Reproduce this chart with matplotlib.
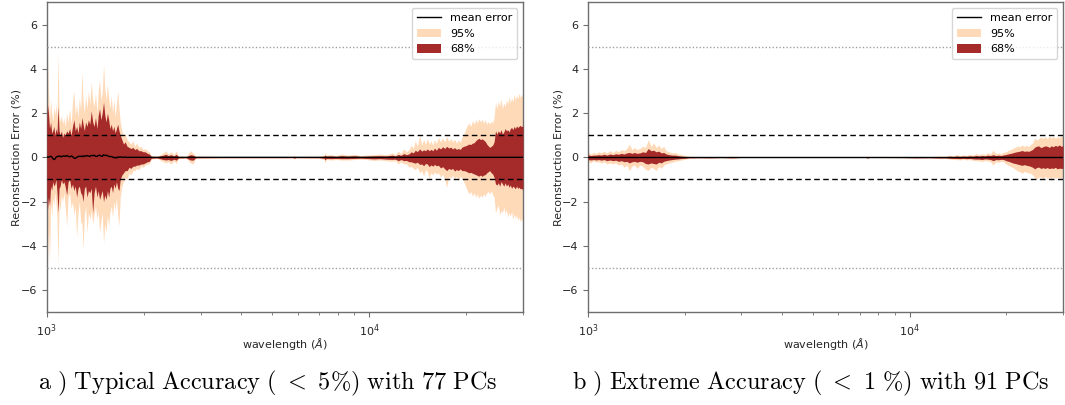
import numpy as np
import matplotlib
matplotlib.use("Agg")
import matplotlib.pyplot as plt

# ---------------- data ----------------
# Panel a: typical accuracy, 77 PCs
wl_a = [1000, 1005, 1012, 1020, 1028, 1036, 1044, 1052, 1060, 1068, 1076, 1084, 1092, 1100,
        1110, 1120, 1130, 1140, 1153, 1165, 1177, 1190, 1202, 1214, 1226, 1238, 1250, 1262,
        1274, 1286, 1296, 1308, 1320, 1333, 1346, 1360, 1374, 1388, 1402, 1416, 1432, 1444,
        1458, 1472, 1486, 1500, 1514, 1528, 1542, 1556, 1570, 1585, 1600, 1615, 1630, 1645,
        1660, 1675, 1690, 1710, 1730, 1750, 1775, 1800, 1825, 1850, 1875, 1900, 1930, 1960,
        1990, 2020, 2050, 2080, 2110, 2200, 2300, 2340, 2380, 2430, 2480, 2520, 2560, 2700,
        2790, 2840, 2900, 3500, 4500, 5800, 5860, 5920, 7000, 7250, 7300, 7360, 7600, 7900,
        8200, 8600, 9000, 9400, 9800, 10300, 10800, 11300,
        11800, 12050, 12300, 12550, 12800, 13050, 13300, 13500, 13700, 13900, 14100, 14350,
        14550, 14750, 14950, 15150, 15350, 15550, 15750, 15950, 16150, 16400, 16650, 16900,
        17150, 17400, 17650, 17900, 18150, 18400, 18650, 18900, 19150, 19400, 19650, 19900,
        20150, 20400, 20650, 20900, 21150, 21400, 21650, 21900, 22150, 22400, 22650, 22900,
        23150, 23400, 23650, 23900, 24150, 24400, 24650, 24900, 25150, 25400, 25650, 25900,
        26150, 26400, 26650, 26900, 27150, 27400, 27650, 27900, 28150, 28400, 28650, 28900,
        29150, 29400, 29650, 29850, 30000]
up95_a = [2.9, 4.8, 3.0, 1.8, 2.6, 2.0, 1.6, 2.3, 1.9, 2.4, 1.7, 4.7, 2.0, 1.6,
          1.9, 1.5, 1.8, 1.4, 2.0, 1.6, 2.2, 1.5, 2.5, 3.0, 1.9, 2.4, 1.8, 2.7,
          2.1, 3.9, 2.5, 2.0, 2.8, 2.2, 3.0, 2.4, 3.4, 2.6, 2.3, 2.9, 2.0, 3.0,
          3.5, 2.6, 2.9, 4.2, 3.1, 2.6, 3.3, 2.7, 2.2, 2.8, 2.0, 2.6, 1.8, 2.4,
          3.0, 2.2, 1.6, 1.2, 0.9, 1.1, 0.8, 0.7, 0.6, 0.75, 0.5, 0.65, 0.45, 0.5,
          0.35, 0.4, 0.3, 0.25, 0.08, 0.05, 0.2, 0.3, 0.15, 0.25, 0.12, 0.3, 0.06, 0.04,
          0.3, 0.2, 0.05, 0.03, 0.03, 0.03, 0.08, 0.03, 0.04, 0.1, 0.22, 0.1, 0.12, 0.08,
          0.15, 0.1, 0.14, 0.08, 0.1, 0.12, 0.15, 0.12,
          0.2, 0.12, 0.28, 0.18, 0.38, 0.25, 0.35, 0.55, 0.4, 0.75, 0.5, 1.0,
          0.55, 0.8, 0.6, 0.85, 0.6, 0.75, 0.55, 0.8, 0.62, 0.9, 0.7, 0.88,
          0.7, 0.95, 0.72, 0.85, 0.7, 0.82, 0.65, 0.78, 0.68, 0.9, 1.05, 1.25,
          1.45, 1.55, 1.4, 1.65, 1.5, 1.7, 1.55, 1.75, 1.6, 1.72, 1.55, 1.7,
          1.5, 1.62, 1.5, 1.65, 1.55, 1.8, 2.5, 2.2, 2.55, 2.3, 2.65, 2.2,
          2.45, 2.3, 2.6, 2.4, 2.75, 2.45, 2.7, 2.5, 2.85, 2.6, 2.8, 2.65,
          2.9, 2.7, 2.85, 2.75, 2.8]
lo95_a = [-2.6, -4.7, -3.2, -4.8, -2.0, -2.7, -1.8, -2.2, -1.6, -2.1, -2.8, -4.9, -2.0, -2.4,
          -1.7, -2.0, -1.6, -2.2, -3.1, -1.8, -1.6, -2.3, -2.0, -2.6, -2.2, -3.6, -2.5, -2.0,
          -2.9, -3.0, -4.2, -2.6, -2.2, -3.4, -2.5, -2.8, -2.4, -3.0, -2.6, -2.2, -2.8, -2.4,
          -3.4, -2.9, -2.5, -3.9, -3.0, -3.4, -2.6, -3.1, -2.5, -2.2, -2.7, -2.0, -2.4, -1.8,
          -2.6, -3.1, -1.8, -1.3, -1.1, -0.9, -1.0, -0.7, -0.8, -0.6, -0.6, -0.5, -0.55, -0.4,
          -0.45, -0.35, -0.3, -0.3, -0.08, -0.05, -0.2, -0.25, -0.2, -0.3, -0.15, -0.28, -0.06, -0.04,
          -0.25, -0.3, -0.05, -0.03, -0.03, -0.03, -0.08, -0.03, -0.04, -0.1, -0.25, -0.1, -0.12, -0.1,
          -0.12, -0.12, -0.1, -0.08, -0.1, -0.14, -0.12, -0.15,
          -0.18, -0.15, -0.3, -0.2, -0.3, -0.28, -0.45, -0.4, -0.5, -0.55, -0.45, -0.7,
          -0.6, -0.85, -0.55, -0.65, -0.95, -0.7, -0.8, -0.65, -0.75, -0.7, -0.9, -0.75,
          -1.0, -1.35, -0.85, -0.95, -0.8, -1.0, -0.85, -1.05, -0.85, -0.95, -1.1, -1.3,
          -1.5, -1.65, -1.55, -1.75, -1.6, -1.8, -1.65, -1.85, -1.7, -1.8, -1.65, -1.75,
          -1.6, -1.55, -1.65, -1.5, -1.7, -1.8, -2.5, -2.3, -2.15, -2.6, -2.4, -2.5,
          -2.25, -2.55, -2.35, -2.7, -2.5, -2.65, -2.45, -2.8, -2.55, -2.75, -2.6, -2.85,
          -2.7, -2.9, -2.75, -2.9, -2.8]
up68_a = [1.5, 2.4, 2.0, 1.3, 1.6, 1.1, 1.2, 1.4, 1.0, 1.3, 1.1, 2.3, 1.2, 1.0,
          1.2, 0.9, 1.1, 1.0, 1.2, 1.1, 1.3, 1.0, 1.4, 1.7, 1.2, 1.4, 1.1, 1.6,
          1.3, 1.8, 1.5, 1.2, 1.6, 1.4, 1.7, 1.5, 2.1, 1.6, 1.4, 1.8, 1.3, 1.9,
          2.2, 1.7, 2.0, 2.5, 1.9, 1.6, 2.0, 1.7, 1.3, 1.5, 1.2, 1.4, 1.1, 1.3,
          1.5, 1.2, 1.0, 0.8, 0.6, 0.7, 0.5, 0.45, 0.4, 0.45, 0.35, 0.4, 0.3, 0.3,
          0.25, 0.25, 0.18, 0.15, 0.04, 0.03, 0.1, 0.14, 0.08, 0.12, 0.06, 0.14, 0.03, 0.02,
          0.12, 0.1, 0.02, 0.015, 0.015, 0.015, 0.04, 0.015, 0.02, 0.05, 0.1, 0.05, 0.06, 0.04,
          0.07, 0.05, 0.07, 0.04, 0.05, 0.06, 0.07, 0.06,
          0.1, 0.06, 0.13, 0.09, 0.17, 0.12, 0.16, 0.25, 0.2, 0.32, 0.26, 0.38,
          0.28, 0.34, 0.3, 0.38, 0.3, 0.36, 0.3, 0.42, 0.32, 0.45, 0.38, 0.48,
          0.4, 0.5, 0.42, 0.46, 0.38, 0.44, 0.36, 0.4, 0.36, 0.46, 0.5, 0.52,
          0.56, 0.6, 0.58, 0.64, 0.66, 0.75, 0.82, 0.86, 0.8, 0.84, 0.78, 0.72,
          0.6, 0.52, 0.45, 0.5, 0.55, 0.7, 1.2, 1.05, 1.2, 1.1, 1.25, 1.05,
          1.15, 1.3, 1.2, 1.25, 1.15, 1.3, 1.35, 1.25, 1.4, 1.3, 1.42, 1.35,
          1.4, 1.45, 1.38, 1.42, 1.4]
lo68_a = [-1.6, -2.4, -1.8, -2.2, -1.3, -1.5, -1.1, -1.3, -1.2, -1.0, -1.6, -2.5, -1.4, -1.3,
          -1.0, -1.2, -1.1, -1.3, -1.7, -1.1, -1.0, -1.4, -1.2, -1.5, -1.3, -1.8, -1.4, -1.3,
          -1.6, -1.7, -2.0, -1.4, -1.3, -1.8, -1.5, -1.6, -1.4, -2.5, -1.6, -1.3, -1.8, -1.5,
          -1.9, -1.7, -1.5, -2.0, -1.7, -1.9, -1.5, -1.8, -1.4, -1.3, -1.6, -1.2, -1.4, -1.1,
          -1.4, -1.5, -1.0, -0.8, -0.7, -0.6, -0.6, -0.45, -0.5, -0.4, -0.4, -0.35, -0.35, -0.3,
          -0.3, -0.25, -0.2, -0.18, -0.04, -0.03, -0.1, -0.12, -0.1, -0.14, -0.08, -0.13, -0.03, -0.02,
          -0.12, -0.13, -0.02, -0.015, -0.015, -0.015, -0.04, -0.015, -0.02, -0.05, -0.12, -0.05, -0.06, -0.05,
          -0.06, -0.06, -0.05, -0.04, -0.05, -0.07, -0.06, -0.08,
          -0.09, -0.08, -0.15, -0.1, -0.15, -0.14, -0.2, -0.2, -0.24, -0.26, -0.22, -0.32,
          -0.3, -0.38, -0.28, -0.3, -0.42, -0.34, -0.4, -0.32, -0.38, -0.36, -0.48, -0.42,
          -0.52, -0.6, -0.5, -0.55, -0.5, -0.62, -0.55, -0.6, -0.52, -0.6, -0.6, -0.62,
          -0.66, -0.7, -0.68, -0.72, -0.75, -0.78, -0.82, -0.85, -0.8, -0.86, -0.8, -0.78,
          -0.7, -0.65, -0.6, -0.7, -0.75, -0.9, -1.2, -1.25, -1.15, -1.3, -1.1, -1.2,
          -1.3, -1.15, -1.3, -1.2, -1.35, -1.25, -1.4, -1.3, -1.35, -1.42, -1.3, -1.4,
          -1.35, -1.42, -1.4, -1.45, -1.4]
mean_a = [0.0, 0.02, 0.0, 0.03, 0.05, 0.02, -0.05, -0.1, -0.08, 0.0, 0.03, 0.05, 0.04, 0.06,
          0.02, 0.05, 0.07, 0.04, 0.08, 0.05, 0.02, 0.06, 0.04, -0.03, -0.05, 0.0, 0.03, 0.05,
          0.04, 0.06, 0.03, 0.07, 0.05, 0.08, 0.06, 0.04, 0.09, 0.07, 0.1, 0.05, 0.04, 0.08,
          0.1, 0.06, 0.04, 0.12, 0.08, 0.1, 0.07, 0.05, 0.03, 0.04, 0.02, -0.02, 0.0, -0.03,
          0.02, 0.0, 0.02, 0.01, 0.0, 0.01, 0.0, 0.0, 0.0, 0.0, 0.0, 0.0, 0.0, 0.0,
          0.0, 0.0, 0.0, 0.0, 0.0, 0.0, 0.0, 0.0, 0.0, 0.0, 0.0, 0.0, 0.0, 0.0,
          0.0, 0.0, 0.0, 0.0, 0.0, 0.0, 0.0, 0.0, 0.0, 0.0, 0.0, 0.0, 0.0, 0.0,
          0.0, 0.0, 0.0, 0.0, 0.0, 0.0, 0.0, 0.0] + [0.0] * 77

# Panel b: extreme accuracy, 91 PCs
wl_b = [1000, 1020, 1040, 1060, 1080, 1100, 1120, 1145, 1170, 1195, 1220, 1245, 1270, 1295,
        1320, 1345, 1370, 1395, 1420, 1450, 1480, 1510, 1540, 1570, 1600, 1630, 1660, 1690,
        1720, 1750, 1790, 1830, 1870, 1910, 1960, 2010, 2060, 2200, 2400, 2600, 2800, 3000,
        5000, 7300, 7400, 7500, 9500, 10500, 11500,
        12500, 12900, 13300, 13700, 14000, 14350, 14700, 15050, 15400, 15750, 16100, 16450,
        16800, 17150, 17500, 17850, 18200, 18550, 18900, 19250, 19600, 19950, 20300, 20650,
        21000, 21350, 21700, 22050, 22400, 22750, 23100, 23450, 23800, 24150, 24500, 24850,
        25200, 25600, 26000, 26400, 26800, 27200, 27600, 28000, 28400, 28800, 29200, 29600,
        30000]
up95_b = [0.25, 0.15, 0.22, 0.18, 0.25, 0.2, 0.28, 0.2, 0.3, 0.22, 0.32, 0.25, 0.35, 0.3,
          0.4, 0.6, 0.35, 0.45, 0.35, 0.4, 0.5, 0.45, 0.8, 0.5, 0.65, 0.45, 0.55, 0.4,
          0.5, 0.3, 0.25, 0.2, 0.22, 0.15, 0.12, 0.08, 0.05, 0.03, 0.04, 0.02, 0.05, 0.01,
          0.01, 0.01, 0.06, 0.01, 0.02, 0.04, 0.03,
          0.06, 0.04, 0.1, 0.07, 0.12, 0.08, 0.11, 0.09, 0.13, 0.1, 0.18, 0.12,
          0.17, 0.13, 0.21, 0.16, 0.32, 0.17, 0.2, 0.16, 0.23, 0.25, 0.32, 0.35,
          0.42, 0.46, 0.52, 0.48, 0.56, 0.5, 0.54, 0.49, 0.58, 0.66, 0.88, 0.78,
          0.84, 0.92, 0.86, 0.94, 0.84, 0.96, 0.88, 0.95, 0.86, 0.93, 0.9, 0.96,
          0.95]
lo95_b = [-0.2, -0.25, -0.15, -0.22, -0.2, -0.25, -0.2, -0.3, -0.25, -0.3, -0.25, -0.35, -0.3, -0.45,
          -0.35, -0.6, -0.4, -0.35, -0.5, -0.35, -0.4, -0.55, -0.6, -0.45, -0.5, -0.6, -0.4, -0.5,
          -0.35, -0.3, -0.25, -0.22, -0.18, -0.15, -0.12, -0.08, -0.05, -0.03, -0.04, -0.02, -0.05, -0.01,
          -0.01, -0.01, -0.06, -0.01, -0.02, -0.04, -0.03,
          -0.06, -0.05, -0.08, -0.1, -0.1, -0.12, -0.09, -0.12, -0.1, -0.14, -0.15, -0.16,
          -0.19, -0.14, -0.17, -0.2, -0.35, -0.2, -0.22, -0.18, -0.2, -0.3, -0.36, -0.42,
          -0.47, -0.55, -0.62, -0.66, -0.72, -0.64, -0.68, -0.7, -0.72, -0.8, -0.92, -0.98,
          -0.9, -0.88, -0.96, -0.86, -0.97, -0.9, -0.95, -0.88, -0.96, -0.9, -0.94, -0.92,
          -0.95]
up68_b = [0.12, 0.08, 0.1, 0.1, 0.12, 0.1, 0.14, 0.1, 0.15, 0.12, 0.16, 0.14, 0.18, 0.15,
          0.2, 0.22, 0.18, 0.22, 0.18, 0.2, 0.25, 0.22, 0.4, 0.3, 0.32, 0.25, 0.28, 0.2,
          0.22, 0.15, 0.12, 0.1, 0.1, 0.07, 0.05, 0.04, 0.02, 0.015, 0.02, 0.01, 0.02, 0.005,
          0.005, 0.005, 0.03, 0.005, 0.01, 0.02, 0.015,
          0.03, 0.02, 0.05, 0.035, 0.06, 0.04, 0.055, 0.045, 0.065, 0.05, 0.08, 0.06,
          0.08, 0.065, 0.1, 0.08, 0.12, 0.08, 0.1, 0.08, 0.11, 0.13, 0.16, 0.18,
          0.21, 0.24, 0.26, 0.28, 0.31, 0.27, 0.29, 0.27, 0.31, 0.36, 0.46, 0.5,
          0.52, 0.44, 0.48, 0.52, 0.5, 0.45, 0.52, 0.48, 0.54, 0.5, 0.56, 0.5,
          0.52]
lo68_b = [-0.1, -0.12, -0.1, -0.12, -0.1, -0.13, -0.1, -0.15, -0.12, -0.15, -0.13, -0.18, -0.15, -0.2,
          -0.18, -0.25, -0.2, -0.18, -0.22, -0.18, -0.2, -0.28, -0.3, -0.25, -0.28, -0.3, -0.22, -0.25,
          -0.18, -0.15, -0.12, -0.1, -0.08, -0.07, -0.05, -0.04, -0.02, -0.015, -0.02, -0.01, -0.02, -0.005,
          -0.005, -0.005, -0.03, -0.005, -0.01, -0.02, -0.015,
          -0.03, -0.025, -0.04, -0.05, -0.05, -0.06, -0.045, -0.06, -0.05, -0.07, -0.08, -0.08,
          -0.1, -0.07, -0.08, -0.1, -0.15, -0.1, -0.11, -0.09, -0.1, -0.15, -0.18, -0.22,
          -0.26, -0.28, -0.31, -0.34, -0.36, -0.33, -0.36, -0.38, -0.41, -0.45, -0.52, -0.46,
          -0.44, -0.5, -0.47, -0.5, -0.46, -0.51, -0.48, -0.5, -0.45, -0.52, -0.49, -0.5,
          -0.5]
mean_b = [0.0] * len(wl_b)

captions = [r"$\mathrm{a\ )\ Typical\ Accuracy\ (\ <\ 5\%)\ with\ 77\ PCs}$",
            r"$\mathrm{b\ )\ Extreme\ Accuracy\ (\ <\ 1\ \%)\ with\ 91\ PCs}$"]
legend_labels = ["mean error", "95%", "68%"]
xlabel = r"wavelength ($\AA$)"
ylabel = "Reconstruction Error (%)"

# ---------------- styling ----------------
C95 = "#FFDAB9"
C68 = "#A52A2A"
SPINE = "#6e6e6e"
TXT = "#262626"
plt.rcParams["font.family"] = ["DejaVu Sans"]
plt.rcParams["font.size"] = 8

fig = plt.figure(figsize=(10.65, 4.05), dpi=100)
axes_pos = [[0.0439, 0.229, 0.4472, 0.765],
            [0.5521, 0.229, 0.4460, 0.765]]
panels = [(wl_a, up95_a, lo95_a, up68_a, lo68_a, mean_a),
          (wl_b, up95_b, lo95_b, up68_b, lo68_b, mean_b)]
cap_x = [0.251, 0.761]

for pos, (wl, u95, l95, u68, l68, mn), cap, cx in zip(axes_pos, panels, captions, cap_x):
    ax = fig.add_axes(pos)
    wl = np.asarray(wl, float)
    ax.plot(wl, mn, color="black", lw=1.0, label=legend_labels[0], zorder=4)
    ax.fill_between(wl, l95, u95, color=C95, lw=0, label=legend_labels[1], zorder=2)
    ax.fill_between(wl, l68, u68, color=C68, lw=0, label=legend_labels[2], zorder=3)
    for yv in (1, -1):
        ax.axhline(yv, color="black", ls=(0, (4, 2.5)), lw=1.0, zorder=5)
    for yv in (5, -5):
        ax.axhline(yv, color="#a0a0a0", ls=(0, (1, 1.5)), lw=1.0, zorder=5)
    ax.set_xscale("log")
    ax.set_xlim(1000, 30000)
    ax.set_ylim(-7, 7)
    ax.set_yticks([-6, -4, -2, 0, 2, 4, 6])
    for s in ax.spines.values():
        s.set_color(SPINE)
        s.set_linewidth(1.0)
    ax.tick_params(colors=SPINE, labelcolor=TXT, labelsize=8, width=0.8, length=3.5)
    ax.tick_params(which="minor", colors=SPINE, length=2, width=0.6)
    ax.set_xlabel(xlabel, fontsize=8, color=TXT, labelpad=-2)
    ax.set_ylabel(ylabel, fontsize=8, color=TXT, labelpad=-1)
    leg = ax.legend(loc="upper right", fontsize=8, frameon=True, fancybox=True,
                    handlelength=2.2, handleheight=0.8, borderpad=0.45, labelspacing=0.5)
    leg.get_frame().set_edgecolor("#cccccc")
    fig.text(cx, 0.054, cap, ha="center", va="center", fontsize=17.5,
             math_fontfamily="cm", color="black")

fig.savefig("out.png", dpi=100)
